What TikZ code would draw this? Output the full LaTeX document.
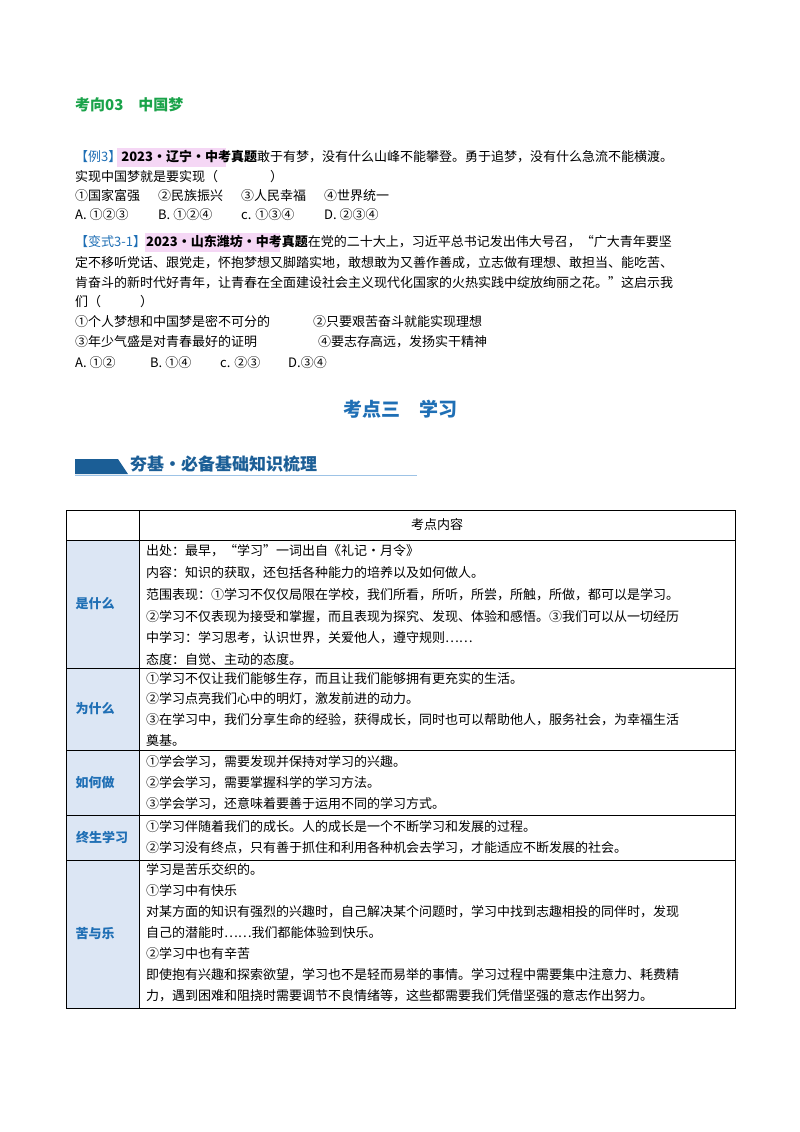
\documentclass[tikz,border=0pt]{standalone}
\usepackage{fontspec}
\setmainfont{Noto Sans CJK SC}
\begin{document}
\begin{tikzpicture}[x=1pt,y=-1pt,
  t/.style={anchor=west,inner sep=0pt,font=\fontsize{13}{15}\selectfont},
  lab/.style={inner sep=0pt,font=\fontsize{13}{15}\selectfont\bfseries,text=blueT},
  cellL/.style={fill=cellB,draw=black,line width=0.6pt},
  ]
\definecolor{greenT}{HTML}{1AA34A}
\definecolor{blueT}{HTML}{1F6FB5}
\definecolor{darkB}{HTML}{1B5E96}
\definecolor{cellB}{HTML}{DCE6F4}
\definecolor{pinkH}{HTML}{F5D7F5}
\definecolor{lineB}{HTML}{9DC3E6}
\useasboundingbox (0,0) rectangle (800,1132);
\fill[white] (0,0) rectangle (800,1132);
% heading
\node[t,font=\fontsize{15}{17}\selectfont\bfseries,text=greenT] (h1) at (75,105) {考向03\quad 中国梦};
% highlights
\fill[pinkH] (117,148) rectangle (226,167);
\fill[pinkH] (145,233) rectangle (280,252);
\node[t] (e1) at (75,157) {\textcolor{blueT}{【例3】}\textbf{2023・辽宁・中考真题}敢于有梦，没有什么山峰不能攀登。勇于追梦，没有什么急流不能横渡。};
\node[t] (e2) at (75,177) {实现中国梦就是要实现（\hspace{4em}）};
\node[t] (e3a) at (75,196) {①国家富强};
\node[t] (e3b) at (158,196) {②民族振兴};
\node[t] (e3c) at (241,196) {③人民幸福};
\node[t] (e3d) at (324,196) {④世界统一};
\node[t] (e4a) at (75,215) {A. ①②③};
\node[t] (e4b) at (158,215) {B. ①②④};
\node[t] (e4c) at (241,215) {c. ①③④};
\node[t] (e4d) at (324,215) {D. ②③④};
\node[t] (v1) at (75,242) {\textcolor{blueT}{【变式3-1】}\textbf{2023・山东潍坊・中考真题}在党的二十大上，习近平总书记发出伟大号召，“广大青年要坚};
\node[t] (v2) at (75,263) {定不移听党话、跟党走，怀抱梦想又脚踏实地，敢想敢为又善作善成，立志做有理想、敢担当、能吃苦、};
\node[t] (v3) at (75,283) {肯奋斗的新时代好青年，让青春在全面建设社会主义现代化国家的火热实践中绽放绚丽之花。”这启示我};
\node[t] (v4) at (75,302) {们（\hspace{3em}）};
\node[t] (v5a) at (75,322) {①个人梦想和中国梦是密不可分的};
\node[t] (v5b) at (313,322) {②只要艰苦奋斗就能实现理想};
\node[t] (v6a) at (75,342) {③年少气盛是对青春最好的证明};
\node[t] (v6b) at (318,342) {④要志存高远，发扬实干精神};
\node[t] (v7a) at (75,363) {A. ①②};
\node[t] (v7b) at (150,363) {B. ①④};
\node[t] (v7c) at (220,363) {c. ②③};
\node[t] (v7d) at (288,363) {D.③④};
% title
\node[inner sep=0pt,font=\fontsize{19}{21}\selectfont\bfseries,text=blueT] (title) at (400,409) {考点三\quad 学习};
% banner
\fill[darkB] (75,459) -- (118,459) -- (128,474) -- (75,474) -- cycle;
\draw[lineB,line width=0.8pt] (75,475) -- (417,475);
\node[t,font=\fontsize{17}{19}\selectfont\bfseries,text=darkB] (ban) at (130,464) {夯基・必备基础知识梳理};
% table
\draw[cellL] (66,540) rectangle (139,668);
\draw[cellL] (66,668) rectangle (139,750);
\draw[cellL] (66,750) rectangle (139,815);
\draw[cellL] (66,815) rectangle (139,860);
\draw[cellL] (66,860) rectangle (139,1008);
\draw[line width=0.6pt] (66,510) rectangle (735,1008);
\draw[line width=0.6pt] (139,510) -- (139,1008);
\foreach \yy in {540,668,750,815,860} \draw[line width=0.6pt] (66,\yy) -- (735,\yy);
\node[inner sep=0pt,font=\fontsize{13}{15}\selectfont] (hd) at (437,525) {考点内容};
\node[lab] (l1) at (95,604) {是什么};
\node[lab] (l2) at (95,709) {为什么};
\node[lab] (l3) at (95,783) {如何做};
\node[lab] (l4) at (102,837) {终生学习};
\node[lab] (l5) at (95,934) {苦与乐};
\node[t] (a1) at (146,551) {出处：最早，“学习”一词出自《礼记·月令》};
\node[t] (a2) at (146,573) {内容：知识的获取，还包括各种能力的培养以及如何做人。};
\node[t] (a3) at (146,595) {范围表现：①学习不仅仅局限在学校，我们所看，所听，所尝，所触，所做，都可以是学习。};
\node[t] (a4) at (146,617) {②学习不仅表现为接受和掌握，而且表现为探究、发现、体验和感悟。③我们可以从一切经历};
\node[t] (a5) at (146,638) {中学习：学习思考，认识世界，关爱他人，遵守规则……};
\node[t] (a6) at (146,660) {态度：自觉、主动的态度。};
\node[t] (b1) at (146,679) {①学习不仅让我们能够生存，而且让我们能够拥有更充实的生活。};
\node[t] (b2) at (146,699) {②学习点亮我们心中的明灯，激发前进的动力。};
\node[t] (b3) at (146,720) {③在学习中，我们分享生命的经验，获得成长，同时也可以帮助他人，服务社会，为幸福生活};
\node[t] (b4) at (146,741) {奠基。};
\node[t] (c1) at (146,762) {①学会学习，需要发现并保持对学习的兴趣。};
\node[t] (c2) at (146,783) {②学会学习，需要掌握科学的学习方法。};
\node[t] (c3) at (146,804) {③学会学习，还意味着要善于运用不同的学习方式。};
\node[t] (d1) at (146,827) {①学习伴随着我们的成长。人的成长是一个不断学习和发展的过程。};
\node[t] (d2) at (146,848) {②学习没有终点，只有善于抓住和利用各种机会去学习，才能适应不断发展的社会。};
\node[t] (f1) at (146,870) {学习是苦乐交织的。};
\node[t] (f2) at (146,891) {①学习中有快乐};
\node[t] (f3) at (146,912) {对某方面的知识有强烈的兴趣时，自己解决某个问题时，学习中找到志趣相投的同伴时，发现};
\node[t] (f4) at (146,933) {自己的潜能时……我们都能体验到快乐。};
\node[t] (f5) at (146,954) {②学习中也有辛苦};
\node[t] (f6) at (146,975) {即使抱有兴趣和探索欲望，学习也不是轻而易举的事情。学习过程中需要集中注意力、耗费精};
\node[t] (f7) at (146,996) {力，遇到困难和阻挠时需要调节不良情绪等，这些都需要我们凭借坚强的意志作出努力。};
\end{tikzpicture}
\end{document}
